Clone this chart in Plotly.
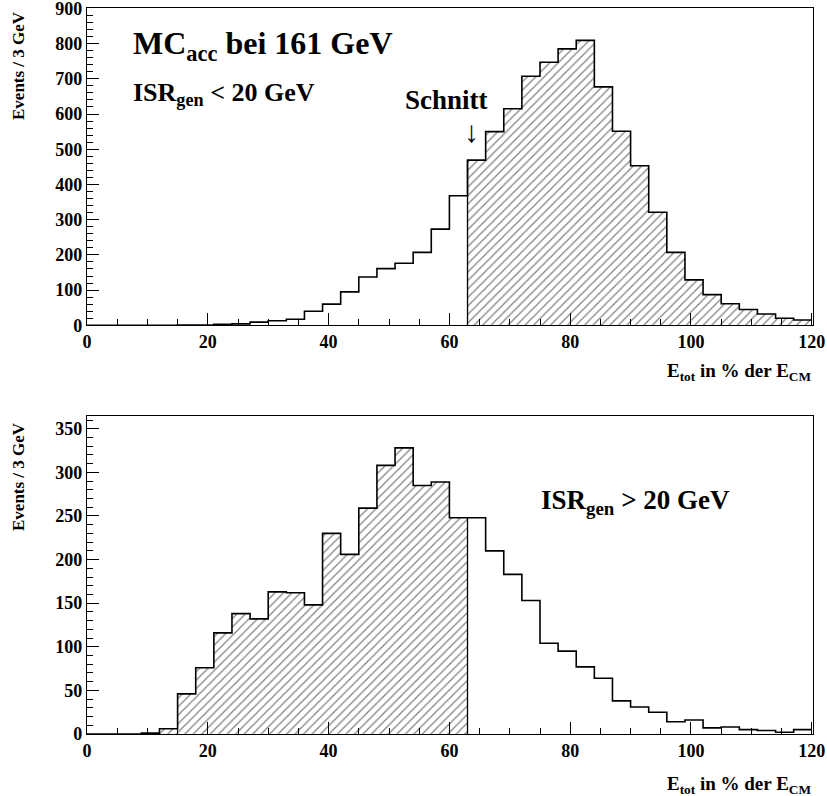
import plotly.graph_objects as go

# ---------------- data ----------------
BIN_EDGES = list(range(0, 121, 3))          # E_tot in % der E_CM, 3 GeV bins
CUT = 63                                     # "Schnitt"

top_counts = [0, 0, 0, 0, 0, 1, 1, 3, 4, 9, 13, 17, 40, 60, 95, 137, 161, 176, 207, 273,
              368, 469, 550, 615, 707, 747, 785, 809, 677, 551, 453, 321, 207, 129, 87, 61,
              45, 32, 20, 15]
bottom_counts = [0, 0, 0, 1, 6, 46, 76, 116, 138, 132, 163, 162, 148, 230, 206, 259, 308,
                 328, 285, 289, 248, 248, 210, 183, 153, 104, 95, 77, 64, 38, 31, 25, 14, 16,
                 7, 8, 5, 4, 2, 5]

top_yticks = [0, 100, 200, 300, 400, 500, 600, 700, 800, 900]
bottom_yticks = [0, 50, 100, 150, 200, 250, 300, 350]
xticks = [0, 20, 40, 60, 80, 100, 120]

FONT = "Liberation Serif"
W, H = 827, 796
ML, MR, MT, MB = 87, 14, 8, 62
PW, PH = W - ML - MR, H - MT - MB


def px(x):
    return (x - ML) / PW


def py(y):
    return (H - MB - y) / PH


centers = [(a + b) / 2 for a, b in zip(BIN_EDGES[:-1], BIN_EDGES[1:])]

fig = go.Figure()


def add_hist(counts, hatch_above, xa, ya):
    sel = [(c >= CUT) if hatch_above else (c < CUT) for c in centers]
    yh = [v if s else 0 for v, s in zip(counts, sel)]
    fig.add_trace(go.Bar(
        x=centers, y=yh, width=3, xaxis=xa, yaxis=ya,
        marker=dict(color="white", line=dict(width=0),
                    pattern=dict(shape="/", fgcolor="black", bgcolor="white",
                                 size=6, solidity=0.2)),
        showlegend=False, hoverinfo="skip"))
    fig.add_trace(go.Scatter(
        x=BIN_EDGES, y=counts + [counts[-1]], mode="lines", line_shape="hv",
        line=dict(color="black", width=1.6), xaxis=xa, yaxis=ya,
        showlegend=False, hoverinfo="skip"))
    k = BIN_EDGES.index(CUT)
    fig.add_trace(go.Scatter(
        x=[CUT, CUT], y=[0, max(counts[k - 1], counts[k])], mode="lines",
        line=dict(color="black", width=1.3), xaxis=xa, yaxis=ya,
        showlegend=False, hoverinfo="skip"))


add_hist(top_counts, True, "x", "y")
add_hist(bottom_counts, False, "x2", "y2")

tickfont = dict(family=FONT, size=18, color="black", weight="bold")
common_x = dict(range=[0, 120.2], tickvals=xticks, ticks="inside", ticklen=12,
                tickwidth=1.2, tickcolor="black", showline=True, linecolor="black",
                linewidth=1.3, mirror=True, showgrid=False, zeroline=False,
                tickfont=tickfont, ticklabeloverflow="allow", automargin=False,
                minor=dict(ticks="inside", ticklen=6, dtick=5, tickcolor="black",
                           tickwidth=1.2, showgrid=False))
common_y = dict(ticks="inside", ticklen=12, tickwidth=1.2, tickcolor="black",
                showline=True, linecolor="black", linewidth=1.3, mirror=True,
                showgrid=False, zeroline=False, tickfont=tickfont,
                ticksuffix="\u00a0", ticklabeloverflow="allow", automargin=False)

top_dom = [py(325.3), 1]
bot_dom = [0, py(416)]

fig.update_layout(
    width=W, height=H, margin=dict(l=ML, r=MR, t=MT, b=MB, autoexpand=False),
    font=dict(family=FONT, color="black"),
    paper_bgcolor="white", plot_bgcolor="white", bargap=0,
    xaxis=dict(common_x, domain=[0, 1], anchor="y"),
    yaxis=dict(common_y, domain=top_dom, range=[0, 901], tickvals=top_yticks,
               minor=dict(ticks="inside", ticklen=6, dtick=20, tickcolor="black",
                          tickwidth=1.2, showgrid=False), anchor="x"),
    xaxis2=dict(common_x, domain=[0, 1], anchor="y2"),
    yaxis2=dict(common_y, domain=bot_dom, range=[0, 364.6], tickvals=bottom_yticks,
                minor=dict(ticks="inside", ticklen=6, dtick=10, tickcolor="black",
                           tickwidth=1.2, showgrid=False), anchor="x2"),
)

ann = []


def txt(text, x, y, size, xanchor="left", yanchor="middle", bold=True, angle=0,
        xref="paper", yref="paper"):
    ann.append(dict(text=("<b>%s</b>" % text) if bold else text, x=x, y=y,
                    xref=xref, yref=yref, xanchor=xanchor, yanchor=yanchor,
                    showarrow=False, textangle=angle,
                    font=dict(family=FONT, size=size, color="black")))


txt("MC<sub>acc</sub> bei 161 GeV", px(131), py(46), 32)
txt("ISR<sub>gen</sub> &lt; 20 GeV", px(131), py(94), 26)
txt("Schnitt", px(403), py(100), 27)
txt("↓", px(471), py(131), 30, xanchor="center", bold=False)
txt("ISR<sub>gen</sub> &gt; 20 GeV", px(539), py(502), 27)

txt("Events / 3 GeV", px(18), py(66), 17, xanchor="center", angle=-90)
txt("Events / 3 GeV", px(18), py(477), 17, xanchor="center", angle=-90)
txt("E<sub>tot</sub> in % der E<sub>CM</sub>", px(813), py(372), 19, xanchor="right")
txt("E<sub>tot</sub> in % der E<sub>CM</sub>", px(813), py(785), 19, xanchor="right")

fig.update_layout(annotations=ann)
fig.write_html("out.html")
